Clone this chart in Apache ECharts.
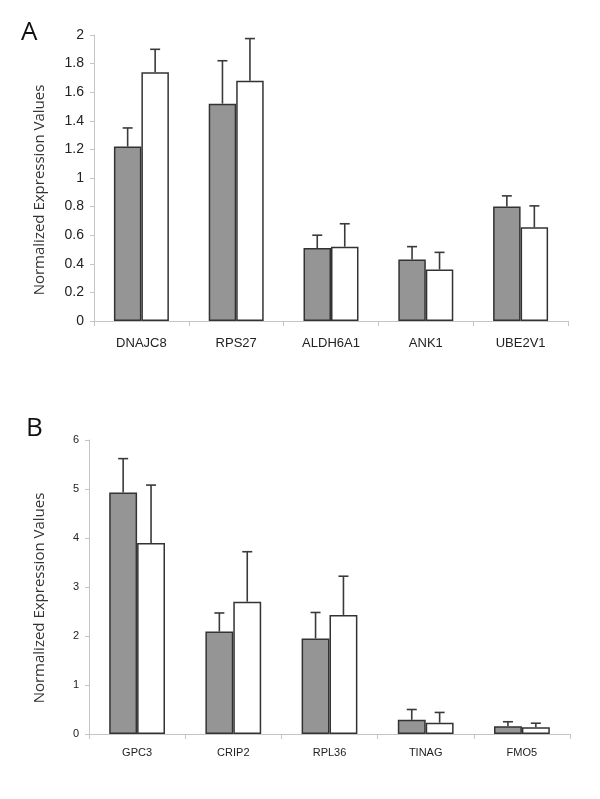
<!DOCTYPE html>
<html>
<head>
<meta charset="utf-8">
<script src="https://cdn.jsdelivr.net/npm/echarts@6/dist/echarts.min.js"></script>
<style>
html,body{margin:0;padding:0;background:#fff;}
#chart{width:600px;height:799px;}
</style>
</head>
<body>
<div id="chart"></div>
<script>
// Panel A data
const catsA = ['DNAJC8', 'RPS27', 'ALDH6A1', 'ANK1', 'UBE2V1'];
const grayA = [1.22, 1.52, 0.51, 0.43, 0.80];
const whiteA = [1.74, 1.68, 0.52, 0.36, 0.655];
const grayATop = [1.35, 1.82, 0.60, 0.52, 0.875];   // upper end of error bars
const whiteATop = [1.90, 1.975, 0.68, 0.48, 0.805];
const ticksA = {min: 0, max: 2, interval: 0.2};

// Panel B data
const catsB = ['GPC3', 'CRIP2', 'RPL36', 'TINAG', 'FMO5'];
const grayB = [4.93, 2.09, 1.95, 0.29, 0.16];
const whiteB = [3.90, 2.70, 2.43, 0.23, 0.14];
const grayBTop = [5.62, 2.47, 2.48, 0.50, 0.25];
const whiteBTop = [5.08, 3.72, 3.22, 0.44, 0.22];
const ticksB = {min: 0, max: 6, interval: 1};

const yTitle = 'Normalized Expression Values';

const chart = echarts.init(document.getElementById('chart'), null, {renderer: 'canvas'});

function errRender(side) {
  return function (params, api) {
    const x = api.value(0);
    const mean = api.value(1);
    const top = api.value(2);
    const c = api.coord([x, mean]);
    const t = api.coord([x, top]);
    const catW = api.size([1, 0])[0];
    const cx = c[0] + side * catW * 0.145;
    const st = {stroke: '#3a3a3a', lineWidth: 1.6};
    return {
      type: 'group',
      children: [
        {type: 'line', shape: {x1: cx, y1: c[1], x2: cx, y2: t[1]}, style: st},
        {type: 'line', shape: {x1: cx - 5, y1: t[1], x2: cx + 5, y2: t[1]}, style: st}
      ]
    };
  };
}

function errData(means, tops) {
  return means.map((m, i) => [i, m, tops[i]]);
}

const axisLineStyle = {lineStyle: {color: '#c4c4c4', width: 1}};

function xAxis(idx, cats, fontSize, margin) {
  return {
    type: 'category', gridIndex: idx, data: cats,
    axisLine: axisLineStyle,
    axisTick: {show: true, length: 5, lineStyle: {color: '#c4c4c4'}},
    axisLabel: {color: '#222', fontFamily: 'Liberation Sans', fontSize: fontSize, margin: margin}
  };
}

function yAxis(idx, ticks, fontSize) {
  return {
    type: 'value', gridIndex: idx, min: ticks.min, max: ticks.max, interval: ticks.interval,
    axisLine: {show: true, lineStyle: {color: '#c4c4c4', width: 1}},
    axisTick: {show: true, length: 4, lineStyle: {color: '#c4c4c4'}},
    splitLine: {show: false},
    axisLabel: {color: '#222', fontFamily: 'Liberation Sans', fontSize: fontSize, margin: 10}
  };
}

function bars(idx, vals, color) {
  return {
    type: 'bar', xAxisIndex: idx, yAxisIndex: idx, data: vals,
    barGap: '0%', barCategoryGap: '42%',
    itemStyle: {color: color, borderColor: '#333', borderWidth: 1.5},
    silent: true, z: 2
  };
}

function errs(idx, means, tops, side) {
  return {
    type: 'custom', xAxisIndex: idx, yAxisIndex: idx,
    data: errData(means, tops),
    encode: {x: 0, y: [1, 2]},
    renderItem: errRender(side),
    silent: true, z: 3
  };
}

function title(x, y) {
  return {
    type: 'text', x: x, y: y, rotation: Math.PI / 2,
    style: {text: yTitle, fontFamily: 'Open Sans', fontSize: 15, fill: '#333',
            align: 'center', verticalAlign: 'middle'}
  };
}

chart.setOption({
  animation: false,
  backgroundColor: '#fff',
  grid: [
    {left: 94, right: 32, top: 35, bottom: 478},
    {left: 89, right: 30, top: 440, bottom: 65}
  ],
  xAxis: [xAxis(0, catsA, 13, 16), xAxis(1, catsB, 11, 13)],
  yAxis: [yAxis(0, ticksA, 14), yAxis(1, ticksB, 11)],
  series: [
    bars(0, grayA, '#959595'),
    bars(0, whiteA, '#ffffff'),
    errs(0, grayA, grayATop, -1),
    errs(0, whiteA, whiteATop, 1),
    bars(1, grayB, '#959595'),
    bars(1, whiteB, '#ffffff'),
    errs(1, grayB, grayBTop, -1),
    errs(1, whiteB, whiteBTop, 1)
  ],
  graphic: [
    title(40, 190),
    title(40, 598),
    {type: 'text', left: 21, top: 20, style: {text: 'A', fontFamily: 'Open Sans', fontSize: 26, fill: '#111'}},
    {type: 'text', left: 26, top: 416, style: {text: 'B', fontFamily: 'Open Sans', fontSize: 26, fill: '#111'}}
  ]
});
</script>
</body>
</html>
